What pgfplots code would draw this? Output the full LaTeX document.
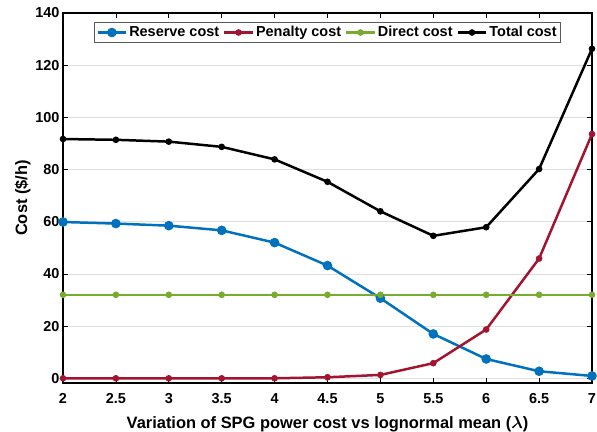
\documentclass[border=0pt]{standalone}
\usepackage{amsmath}
\usepackage{pgfplots}
\pgfplotsset{compat=1.18}
\usepackage{fontspec}
\setmainfont{Liberation Sans}
\definecolor{mblue}{HTML}{0072BD}
\definecolor{mred}{HTML}{A2142F}
\definecolor{mgreen}{HTML}{77AC30}

\begin{document}
\begin{tikzpicture}
  \begin{axis}[
      scale only axis,
      width=529bp, height=370bp,
      xmin=2, xmax=7,
      ymin=-1.8, ymax=140,
      xtick={2,2.5,...,7},
      ytick={0,20,...,140},
      ymajorgrids,
      grid style={gray!25, line width=0.6pt},
      tick align=inside,
      major tick length=5bp,
      axis line style={line width=1.5pt},
      every tick/.style={black, line width=0.8pt},
      tick label style={font=\fontsize{14.5}{16}\selectfont\bfseries},
      xticklabel style={yshift=-7bp},
      /pgf/number format/assume math mode=true,
      xlabel={Variation of SPG power cost vs lognormal mean ($\boldsymbol{\lambda}$)},
      ylabel={Cost (\$/h)},
      label style={font=\fontsize{16.5}{18}\selectfont\bfseries},
      xlabel style={at={(axis description cs:0.5,0)}, anchor=base, yshift=-45bp},
      ylabel style={yshift=-2bp},
      legend columns=4,
      legend style={at={(0.5,0.975)}, anchor=north, draw=gray!70!black,
        font=\fontsize{14.5}{16}\selectfont\bfseries, inner sep=2pt, line width=0.6pt,
        /tikz/every even column/.append style={column sep=2pt}},
      legend image code/.code={
        \draw[mark repeat=2, mark phase=2, #1]
          plot coordinates {(0cm,0cm) (0.5cm,0cm) (1cm,0cm)};},
    ]
    % reserve cost
    \addplot[mblue, line width=2.5pt, mark=*, mark size=3.5pt] coordinates {
      (2,59.9) (2.5,59.3) (3,58.5) (3.5,56.7) (4,52.0) (4.5,43.2)
      (5,30.7) (5.5,17.0) (6,7.4) (6.5,2.7) (7,0.9)
    };
    \addlegendentry{Reserve cost}
    % penalty cost
    \addplot[mred, line width=2.5pt, mark=*, mark size=2pt] coordinates {
      (2,0) (2.5,0) (3,0) (3.5,0) (4,0) (4.5,0.4)
      (5,1.3) (5.5,5.8) (6,18.7) (6.5,45.9) (7,93.6)
    };
    \addlegendentry{Penalty cost}
    % direct cost
    \addplot[mgreen, line width=2.5pt, mark=*, mark size=2pt] coordinates {
      (2,32) (2.5,32) (3,32) (3.5,32) (4,32) (4.5,32)
      (5,32) (5.5,32) (6,32) (6.5,32) (7,32)
    };
    \addlegendentry{Direct cost}
    % total cost
    \addplot[black, line width=2.5pt, mark=*, mark size=2pt] coordinates {
      (2,91.7) (2.5,91.4) (3,90.7) (3.5,88.7) (4,83.9) (4.5,75.3)
      (5,64.0) (5.5,54.6) (6,57.9) (6.5,80.2) (7,126.3)
    };
    \addlegendentry{Total cost}
  \end{axis}
  \pgfresetboundingbox
  \path ([shift={(-63bp,-49bp)}]current axis.south west) rectangle ([shift={(5bp,13bp)}]current axis.north east);
\end{tikzpicture}
\end{document}
